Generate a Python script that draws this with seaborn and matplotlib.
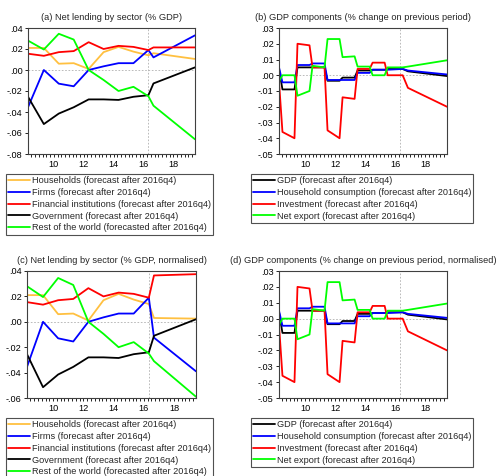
import matplotlib
matplotlib.use("Agg")
import matplotlib.pyplot as plt
import seaborn as sns
from matplotlib.ticker import FuncFormatter, MultipleLocator

# ---- data (x in years since 2000) ----
sect_x = [8.27, 9.33, 10.33, 11.33, 12.33, 13.33, 14.33, 15.33, 16.33, 16.67, 19.45]

# history up to 2016q4
households = [0.021, 0.021, 0.006, 0.0065, 0.001, 0.017, 0.022, 0.0175, 0.014]
firms = [-0.0355, 0.0, -0.013, -0.0155, 0.0, 0.0035, 0.0065, 0.0065, 0.019]
financial = [0.0155, 0.0135, 0.017, 0.018, 0.0265, 0.020, 0.023, 0.022, 0.019]
government = [-0.0255, -0.0515, -0.0415, -0.0355, -0.028, -0.028, -0.0285, -0.0255, -0.024]
rest_world = [0.028, 0.0195, 0.0345, 0.029, 0.0, -0.0095, -0.020, -0.016, -0.025]

# forecasts, panel (a)
households_fc = [0.016, 0.0105]
firms_fc = [0.012, 0.033]
financial_fc = [0.0215, 0.0215]
government_fc = [-0.0128, 0.0025]
rest_world_fc = [-0.034, -0.066]

# forecasts, panel (c) normalised
households_fc_n = [0.003, 0.0025]
firms_fc_n = [-0.0125, -0.039]
financial_fc_n = [0.0365, 0.0375]
government_fc_n = [-0.011, 0.002]
rest_world_fc_n = [-0.031, -0.059]

# GDP components, growth on previous period
gdp_x = [8.27, 8.5, 9.3, 9.5, 10.3, 10.5, 11.3, 11.5, 12.3, 12.5, 13.3, 13.5,
         14.3, 14.5, 15.3, 15.5, 16.5, 16.85, 19.45]
gdp = [0.004, -0.009, -0.009, 0.005, 0.005, 0.005, 0.005, -0.0035, -0.0035, -0.0015,
       -0.0015, 0.003, 0.003, 0.0035, 0.0035, 0.004, 0.004, 0.0025, -0.0005]
consumption = [0.005, -0.0045, -0.0045, 0.0065, 0.0065, 0.0075, 0.0075, -0.003, -0.003,
               -0.003, -0.003, 0.0015, 0.0015, 0.0035, 0.0035, 0.0035, 0.004, 0.003, 0.0005]
investment = [-0.004, -0.036, -0.040, 0.020, 0.019, 0.005, 0.005, -0.035, -0.040, -0.014,
              -0.015, 0.004, 0.004, 0.008, 0.008, 0.000, 0.000, -0.008, -0.020]
net_export = [-0.004, 0.000, 0.000, -0.013, -0.010, 0.006, 0.005, 0.023, 0.023, 0.0115,
              0.012, 0.0055, 0.0055, 0.000, 0.000, 0.005, 0.005, 0.0055, 0.0095]

year_ticks = [10, 12, 14, 16, 18]
forecast_start = 16.33

sect_labels = ["Households (forecast after 2016q4)",
               "Firms (forecast after 2016q4)",
               "Financial institutions (forecast after 2016q4)",
               "Government (forecast after 2016q4)",
               "Rest of the world (forecasted after 2016q4)"]
sect_colors = ["#ffc040", "#0000ff", "#ff0000", "#000000", "#00ff00"]

gdp_labels = ["GDP (forecast after 2016q4)",
              "Household consumption (forecast after 2016q4)",
              "Investment (forecast after 2016q4)",
              "Net export (forecast after 2016q4)"]
gdp_colors = ["#000000", "#0000ff", "#ff0000", "#00ff00"]

# ---- style ----
sns.set_style("ticks")
plt.rcParams['font.family'] = ['Liberation Sans', 'DejaVu Sans']
plt.rcParams['font.size'] = 6.5

W, H = 497, 476
fig = plt.figure(figsize=(W / 100, H / 100), dpi=100)


def make_ax(l, r, t, b):
    return fig.add_axes([l / W, 1 - b / H, (r - l) / W, (b - t) / H])


def fmt(v, pos):
    if abs(v) < 1e-9:
        return ".00"
    return f"{v:.2f}".replace("0.", ".", 1)


def style_ax(ax, ylo, yhi, step, title):
    ax.set_xlim(8.27, 19.45)
    ax.set_ylim(ylo, yhi)
    ax.set_xticks(year_ticks)
    ax.set_xticklabels([str(t) for t in year_ticks])
    ax.xaxis.set_minor_locator(MultipleLocator(0.25))
    ax.yaxis.set_major_locator(MultipleLocator(step))
    ax.yaxis.set_major_formatter(FuncFormatter(fmt))
    ax.tick_params(axis='both', which='both', direction='out', length=2.5, width=0.6,
                   labelsize=6.6, pad=1.5, colors='black')
    for s in ax.spines.values():
        s.set_color('#404040')
        s.set_linewidth(0.8)
    ax.axhline(0, color='#b0b0b0', lw=0.6, ls=(0, (2, 2)), zorder=0)
    ax.axvline(forecast_start, color='#b0b0b0', lw=0.6, ls=(0, (2, 2)), zorder=0)
    ax.set_title(title, fontsize=6.65, pad=6)
    ax.set_xlabel("")
    ax.set_ylabel("")


def add_legend(ax, px, py):
    leg = ax.legend(loc='upper left', bbox_to_anchor=(px / W, 1 - py / H),
                    bbox_transform=fig.transFigure, borderaxespad=0,
                    fontsize=6.6, frameon=True, fancybox=False, framealpha=1,
                    edgecolor='#505050', handlelength=2.4, handletextpad=0.15,
                    labelspacing=0.3, borderpad=0.25)
    leg.get_frame().set_linewidth(0.8)


def sector_panel(ax, fc_sets):
    hist = [households, firms, financial, government, rest_world]
    for h, f, c, lab in zip(hist, fc_sets, sect_colors, sect_labels):
        sns.lineplot(x=sect_x, y=h + f, color=c, lw=1.3, label=lab, ax=ax,
                     sort=False, estimator=None)


def gdp_panel(ax):
    for s, c, lab in zip([gdp, consumption, investment, net_export], gdp_colors, gdp_labels):
        sns.lineplot(x=gdp_x, y=s, color=c, lw=1.3, label=lab, ax=ax,
                     sort=False, estimator=None)


ax_a = make_ax(28, 195, 28, 154)
sector_panel(ax_a, [households_fc, firms_fc, financial_fc, government_fc, rest_world_fc])
style_ax(ax_a, -0.08, 0.04, 0.02, "(a) Net lending by sector (% GDP)")
add_legend(ax_a, 6, 174)

ax_b = make_ax(279, 447, 28, 154)
gdp_panel(ax_b)
style_ax(ax_b, -0.05, 0.03, 0.01, "(b) GDP components (% change on previous period)")
add_legend(ax_b, 251, 174)

ax_c = make_ax(27, 196, 271, 398)
sector_panel(ax_c, [households_fc_n, firms_fc_n, financial_fc_n, government_fc_n, rest_world_fc_n])
style_ax(ax_c, -0.06, 0.04, 0.02, "(c) Net lending by sector (% GDP, normalised)")
add_legend(ax_c, 6, 418)

ax_d = make_ax(279, 447, 271, 398)
gdp_panel(ax_d)
style_ax(ax_d, -0.05, 0.03, 0.01, "(d) GDP components (% change on previous period, normalised)")
add_legend(ax_d, 251, 418)

fig.savefig("out.png", dpi=100)
